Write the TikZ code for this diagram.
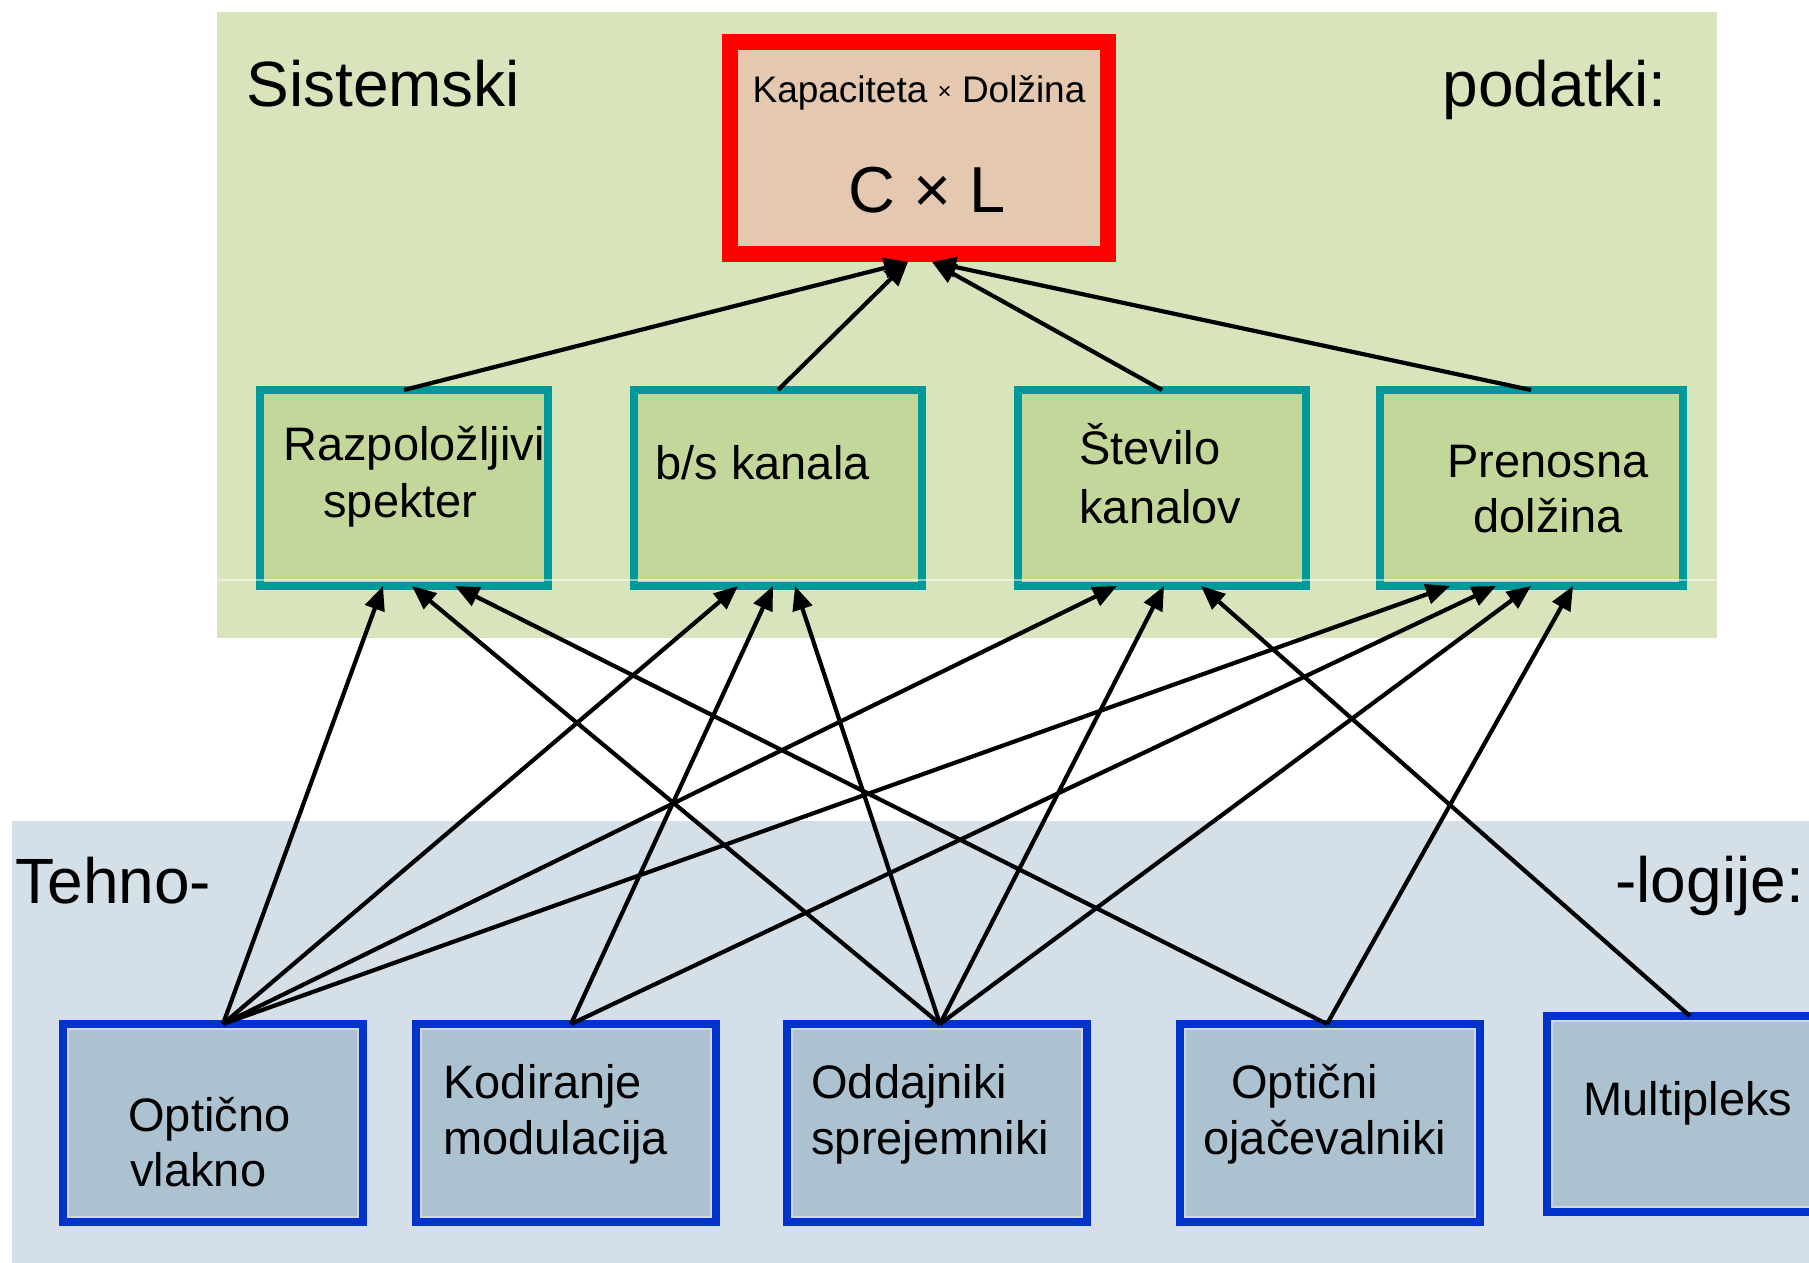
\documentclass[tikz,border=0pt]{standalone}
\usepackage{fontspec}
\setmainfont{Liberation Sans}
\usetikzlibrary{arrows.meta,calc}

\definecolor{sysbg}{RGB}{216,228,188}
\definecolor{midfill}{RGB}{196,215,155}
\definecolor{midedge}{RGB}{0,153,153}
\definecolor{capfill}{RGB}{228,201,176}
\definecolor{capedge}{RGB}{255,0,0}
\definecolor{techbg}{RGB}{213,223,231}
\definecolor{techfill}{RGB}{172,194,209}
\definecolor{techedge}{RGB}{0,51,204}
\definecolor{techrim}{RGB}{205,216,226}

\begin{document}
\begin{tikzpicture}[x=0.5pt,y=-0.5pt,
  midbox/.style={draw=midedge, fill=midfill, line width=4pt, minimum width=144pt,
                 minimum height=98pt, inner sep=0pt, outer sep=0pt},
  techbox/.style={draw=techedge, fill=techfill, line width=4pt, minimum width=150pt,
                  minimum height=99pt, inner sep=0pt, outer sep=0pt},
  capbox/.style={draw=capedge, fill=capfill, line width=8pt, minimum width=189pt,
                 minimum height=106pt, inner sep=0pt, outer sep=0pt},
  headtxt/.style={font=\fontsize{32pt}{38pt}\selectfont, inner sep=0pt, anchor=base west},
  boxtxt/.style={font=\fontsize{23.5pt}{28pt}\selectfont, inner sep=0pt, anchor=base west},
  rim/.style={draw=techrim, line width=0.8pt},
  link/.style={-{Triangle[length=12pt,width=10pt]}, line width=2.1pt, black},
]
% page and the two panels
\useasboundingbox (0,0) rectangle (1809,1263);
\fill[white] (0,0) rectangle (1809,1263);
\fill[sysbg] (217,12) rectangle (1717,638);
\fill[techbg] (12,821) rectangle (1809,1263);

% panel headings
\node[headtxt] (tsys) at (246,106) {Sistemski};
\node[headtxt] (tpod) at (1442,106) {podatki:};
\node[headtxt] (ttech) at (15,903) {Tehno-};
\node[headtxt] (tlog) at (1615,902) {-logije:};

% capacity x length
\node[capbox] (cap) at (919,148) {};
\node[font=\fontsize{18.5pt}{22pt}\selectfont, inner sep=0pt, anchor=base] (tcap1) at (919,103)
  {Kapaciteta {\fontsize{12pt}{14pt}\selectfont\raisebox{1.5pt}{×}} Dolžina};
\node[font=\fontsize{32.5pt}{38pt}\selectfont, inner sep=0pt, anchor=base] (tcap2) at (927,213) {C × L};

% system parameters
\node[midbox] (spec) at (404,488) {};
\node[midbox] (rate) at (778,488) {};
\node[midbox] (chan) at (1162,488) {};
\node[midbox, minimum width=151.5pt] (dist) at (1531,488) {};

\node[boxtxt] (tspec1) at (283,460) {Razpoložljivi};
\node[boxtxt] (tspec2) at (323,517) {spekter};
\node[boxtxt] (trate) at (655,479) {b/s kanala};
\node[boxtxt] (tchan1) at (1079,464) {Število};
\node[boxtxt] (tchan2) at (1079,523) {kanalov};
\node[boxtxt] (tdist1) at (1447,477) {Prenosna};
\node[boxtxt] (tdist2) at (1473,532) {dolžina};

% technologies
\node[techbox] (fib) at (213,1123) {};
\node[techbox] (cod) at (566,1123) {};
\node[techbox] (trx) at (937,1123) {};
\node[techbox] (amp) at (1330,1123) {};
\node[techbox, minimum height=98pt] (mux) at (1697,1114) {};
\foreach \b in {fib,cod,trx,amp,mux}
  \draw[rim] ($(\b.north west)+(5,5)$) rectangle ($(\b.south east)+(-5,-5)$);

\node[boxtxt] (tfib1) at (128,1131) {Optično};
\node[boxtxt] (tfib2) at (130,1186) {vlakno};
\node[boxtxt] (tcod1) at (443,1098) {Kodiranje};
\node[boxtxt] (tcod2) at (443,1154) {modulacija};
\node[boxtxt] (ttrx1) at (811,1098) {Oddajniki};
\node[boxtxt] (ttrx2) at (811,1154) {sprejemniki};
\node[boxtxt] (tamp1) at (1231,1098) {Optični};
\node[boxtxt] (tamp2) at (1203,1154) {ojačevalniki};
\node[boxtxt] (tmux) at (1583,1115) {Multipleks};

% seam between the two halves of the upper panel
\draw[white, opacity=0.5, line width=0.6pt] (217,580) -- (1717,580);

% parameters feed the product C x L
\draw[link] (spec.north) -- ($(cap.south)+(-11,8)$);
\draw[link] (rate.north) -- ($(cap.south)+(-11,8)$);
\draw[link] (chan.north) -- ($(cap.south)+(13,8)$);
\draw[link] (dist.north) -- ($(cap.south)+(13,8)$);

% technologies drive the parameters
\draw[link] ($(fib.north)+(10,0)$) -- ($(spec.south)+(-21,0)$);
\draw[link] ($(fib.north)+(10,0)$) -- ($(rate.south)+(-40,0)$);
\draw[link] ($(fib.north)+(10,0)$) -- ($(chan.south)+(-45,0)$);
\draw[link] ($(fib.north)+(10,0)$) -- ($(dist.south)+(-81,0)$);

\draw[link] ($(cod.north)+(5,0)$) -- ($(rate.south)+(-5,0)$);
\draw[link] ($(cod.north)+(5,0)$) -- ($(dist.south)+(-35,0)$);

\draw[link] ($(trx.north)+(3,0)$) -- ($(spec.south)+(8,0)$);
\draw[link] ($(trx.north)+(3,0)$) -- ($(rate.south)+(17,0)$);
\draw[link] ($(trx.north)+(3,0)$) -- ($(chan.south)+(2,0)$);
\draw[link] ($(trx.north)+(3,0)$) -- (dist.south);

\draw[link] ($(amp.north)+(-3,0)$) -- ($(spec.south)+(51,0)$);
\draw[link] ($(amp.north)+(-3,0)$) -- ($(dist.south)+(42,0)$);

\draw[link] ($(mux.north)+(-7,0)$) -- ($(chan.south)+(39,0)$);
\end{tikzpicture}
\end{document}
